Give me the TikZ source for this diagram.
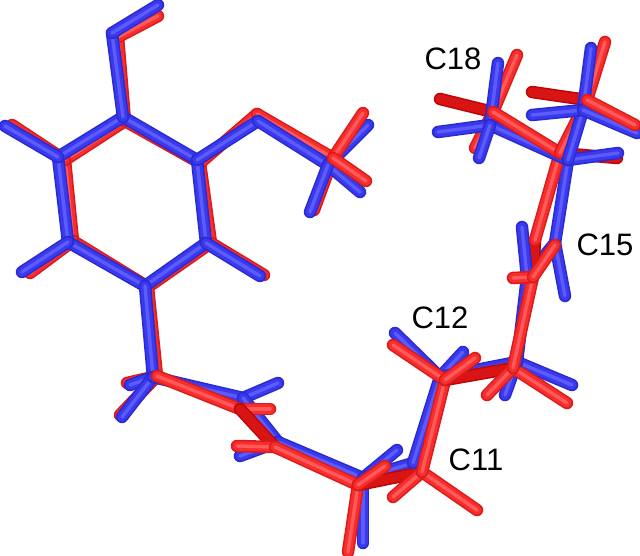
\documentclass[tikz,border=0pt]{standalone}
\usepackage{fontspec}
\setmainfont{Liberation Sans}
\tikzset{
  atomlabel/.style={font=\fontsize{31}{33}\selectfont, text=black, inner sep=0pt},
  stickout/.style={line width=12.5pt, line cap=round},
  stickcore/.style={line width=3.4pt, line cap=round},
  stickmid/.style={line width=9.4pt, line cap=round},
}
\definecolor{bA}{HTML}{2A2AD2}\definecolor{bB}{HTML}{3A3AEC}\definecolor{bC}{HTML}{5C5CFC}
\definecolor{rA}{HTML}{DC1A1A}\definecolor{rB}{HTML}{F62E2E}\definecolor{rC}{HTML}{FF5A5A}
\definecolor{rD}{HTML}{BE0606}\definecolor{rE}{HTML}{D81414}
\newcommand\bb[2]{\draw[stickout,bA] (#1)--(#2); \draw[stickmid,bB] (#1)--(#2); \draw[stickcore,bC] (#1)--(#2);}
\newcommand\rb[2]{\draw[stickout,rA] (#1)--(#2); \draw[stickmid,rB] (#1)--(#2); \draw[stickcore,rC] (#1)--(#2);}
\newcommand\rd[2]{\draw[stickout,rD] (#1)--(#2); \draw[stickmid,rE] (#1)--(#2);}
\begin{document}
\begin{tikzpicture}[x=1pt,y=-1pt]
\useasboundingbox (0,0) rectangle (640,555);
% --- red, ring side (underneath)
\rb{125,121}{200,163}\rb{200,163}{211,243}\rb{211,243}{148,287}\rb{148,287}{73,241}\rb{73,241}{65,160}\rb{65,160}{125,121}
\rb{125,121}{118,37}\rb{118,37}{158,16}
\rb{65,160}{12,125}\rb{73,241}{30,273}\rb{211,243}{264,275}
\rb{200,163}{257,114}\rb{148,287}{157,376}
\rb{333,158}{314,210}
\rb{157,376}{127,383}\rb{157,376}{120,415}
% --- blue ring
\bb{123,117}{197,160}\bb{197,160}{206,243}\bb{206,243}{145,286}\bb{145,286}{68,242}\bb{68,242}{58,157}\bb{58,157}{123,117}
\bb{123,117}{112,33}\bb{112,33}{158,5}
\bb{58,157}{5,126}\bb{68,242}{22,272}\bb{206,243}{260,276}
\bb{145,286}{153,377}
\rb{257,114}{333,158}
\bb{197,160}{258,121}\bb{258,121}{328,165}
\bb{328,165}{368,125}\bb{328,165}{360,192}\bb{328,165}{310,212}
\rb{333,158}{363,113}\rb{333,158}{366,181}
% --- lower chain: blue
\bb{153,377}{130,385}\bb{153,377}{122,417}\bb{153,377}{243,398}
\bb{243,398}{278,383}\bb{243,398}{278,442}\bb{278,442}{240,456}\bb{278,442}{363,478}
\bb{363,478}{397,450}\bb{363,478}{363,543}\bb{363,478}{413,463}
% --- lower chain: red
\rb{157,376}{240,409}\rb{240,409}{270,409}\rd{240,409}{275,447}
\rb{275,447}{237,446}\rb{275,447}{358,485}
\rb{358,485}{348,552}
\rd{358,485}{422,472}\rb{358,485}{385,466}
% --- C11 / C12 area
\bb{413,463}{440,377}\bb{440,377}{395,333}\bb{440,377}{463,352}
\bb{440,377}{517,362}\bb{517,362}{572,385}\bb{517,362}{505,395}
\rb{422,472}{393,497}\rb{422,472}{477,510}\rb{422,472}{445,380}
\rb{445,380}{393,345}\rd{445,380}{513,368}\rb{445,380}{475,358}
\rb{513,368}{567,403}\rb{513,368}{487,395}
% --- upper right: blue chain
\bb{517,362}{527,277}\bb{527,277}{555,243}\bb{555,243}{565,296}
\bb{555,243}{568,160}
\rd{533,277}{535,240}
\bb{527,277}{522,227}
\rb{513,368}{533,277}\rb{533,277}{513,278}\rb{533,277}{555,245}
\rb{535,240}{560,153}
\rb{493,112}{475,148}\rd{560,153}{617,158}
\rd{493,112}{440,99}\rb{493,112}{517,55}
\bb{568,160}{490,125}\bb{490,125}{438,132}\bb{490,125}{498,63}\bb{490,125}{479,158}
\rb{493,112}{560,153}
\bb{568,160}{618,153}
\rb{560,153}{587,100}\rb{587,100}{605,42}\rd{587,100}{532,92}
\bb{568,160}{583,110}\bb{583,110}{591,48}\bb{583,110}{532,115}\bb{583,110}{637,133}
\rb{587,100}{635,125}
% --- labels
\node[atomlabel] (c18) at (453,59) {C18};
\node[atomlabel] (c15) at (605,245) {C15};
\node[atomlabel] (c12) at (440,318) {C12};
\node[atomlabel] (c11) at (476,460) {C11};
\end{tikzpicture}
\end{document}
